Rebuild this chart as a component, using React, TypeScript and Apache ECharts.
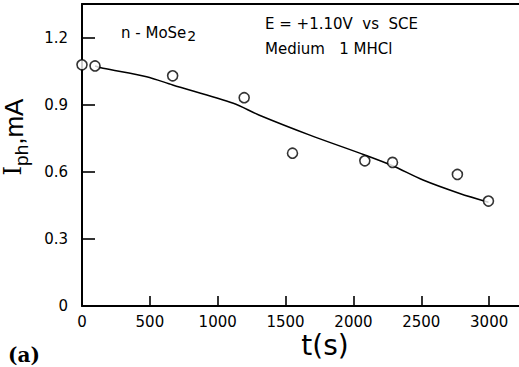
import React, { useEffect, useRef } from "react";
import * as echarts from "echarts";

const measuredT = [0, 96, 668, 1195, 1551, 2084, 2288, 2766, 2995];
const measuredI = [1.078, 1.073, 1.029, 0.931, 0.683, 0.649, 0.642, 0.588, 0.469];

const fitT = [96, 155, 476, 668, 1115, 1303, 1679, 2084, 2288, 2513, 2783, 2995];
const fitI = [1.073, 1.063, 1.025, 0.988, 0.906, 0.854, 0.764, 0.675, 0.627, 0.563, 0.503, 0.464];

const xTicks = [0, 500, 1000, 1500, 2000, 2500, 3000];
const yTicks = [0, 0.3, 0.6, 0.9, 1.2];

export default function App() {
  const ref = useRef<HTMLDivElement>(null);
  useEffect(() => {
    if (!ref.current) return;
    const chart = echarts.init(ref.current, null, { renderer: "svg" });
    const tickFont = "DejaVu Sans";
    chart.setOption({
      animation: false,
      backgroundColor: "#ffffff",
      grid: { left: 82, right: 0, top: 4, bottom: 61, containLabel: false },
      xAxis: [
        {
          type: "value",
          min: 0,
          max: 3220,
          interval: 500,
          splitLine: { show: false },
          axisLine: { show: true, lineStyle: { color: "#000", width: 2 } },
          axisTick: { show: false },
          axisLabel: {
            margin: 8,
            color: "#000",
            fontFamily: tickFont,
            fontSize: 15,
            showMaxLabel: false,
            formatter: (v: number) => (xTicks.indexOf(Math.round(v)) >= 0 ? String(Math.round(v)) : ""),
          },
        },
        {
          type: "value",
          position: "top",
          min: 0,
          max: 3220,
          splitLine: { show: false },
          axisLine: { show: true, lineStyle: { color: "#000", width: 2 } },
          axisTick: { show: false },
          axisLabel: { show: false },
        },
      ],
      yAxis: {
        type: "value",
        min: 0,
        max: 1.35,
        interval: 0.3,
        splitLine: { show: false },
        axisLine: { show: true, lineStyle: { color: "#000", width: 2 } },
        axisTick: { show: false },
        axisLabel: {
          margin: 14,
          color: "#000",
          fontFamily: tickFont,
          fontSize: 15,
          showMaxLabel: false,
          formatter: (v: number) => {
            const r = Math.round(v * 10) / 10;
            const hit = yTicks.some((t) => Math.abs(t - v) < 1e-6);
            if (!hit) return "";
            return r === 0 ? "0" : r.toFixed(1);
          },
        },
      },
      series: [
        {
          type: "scatter",
          data: measuredT.map((t, i) => [t, measuredI[i]]),
          symbol: "circle",
          symbolSize: 10,
          itemStyle: { color: "#fff", borderColor: "#000", borderWidth: 1.6 },
          z: 3,
          markLine: {
            silent: true,
            symbol: "none",
            animation: false,
            label: { show: false },
            lineStyle: { color: "#000", width: 1.6, type: "solid" },
            data: [
              ...xTicks.slice(1).map((v) => [{ coord: [v, 0] }, { coord: [v, 0.045] }]),
              ...yTicks.slice(1).map((v) => [{ coord: [0, v] }, { coord: [96, v] }]),
            ],
          },
        },
        {
          type: "line",
          data: fitT.map((t, i) => [t, fitI[i]]),
          showSymbol: false,
          symbol: "none",
          smooth: 0.3,
          lineStyle: { color: "#000", width: 1.5 },
          silent: true,
          z: 2,
        },
      ],
      graphic: [
        {
          type: "text",
          left: 121,
          top: 20,
          style: {
            text: "{m|n - MoSe}{s|2}",
            rich: {
              m: { fontFamily: "DejaVu Sans", fontSize: 15, fill: "#000", lineHeight: 18, verticalAlign: "top" },
              s: { fontFamily: "DejaVu Sans", fontSize: 14, fill: "#000", lineHeight: 16, padding: [9, 0, 0, 1], verticalAlign: "bottom" },
            },
          },
        },
        {
          type: "text",
          left: 265,
          top: 16,
          style: { text: "E = +1.10V  vs  SCE", fontFamily: "DejaVu Sans", fontSize: 15, fill: "#000" },
        },
        {
          type: "text",
          left: 265,
          top: 41,
          style: { text: "Medium   1 MHCl", fontFamily: "DejaVu Sans", fontSize: 15, fill: "#000" },
        },
        {
          type: "text",
          x: 16,
          y: 137,
          rotation: Math.PI / 2,
          style: {
            text: "{a|I}{b|ph}{c|,mA}",
            align: "center",
            verticalAlign: "middle",
            rich: {
              a: { fontFamily: "DejaVu Serif", fontSize: 24, fill: "#000", lineHeight: 30, verticalAlign: "top" },
              b: { fontFamily: "Liberation Sans", fontSize: 19, fill: "#000", lineHeight: 20, padding: [15, 0, 0, 0], verticalAlign: "bottom" },
              c: { fontFamily: "Liberation Sans", fontSize: 26, fill: "#000", lineHeight: 30, verticalAlign: "top" },
            },
          },
        },
        {
          type: "text",
          x: 325,
          y: 345,
          style: { text: "t(s)", fontFamily: "DejaVu Sans", fontSize: 28, fill: "#000", align: "center", verticalAlign: "middle" },
        },
        {
          type: "text",
          x: 8,
          y: 355,
          style: { text: "(a)", fontFamily: "DejaVu Serif", fontWeight: "bold", fontSize: 20, fill: "#000", align: "left", verticalAlign: "middle" },
        },
      ],
    });
    return () => chart.dispose();
  }, []);
  return (
    <div
      ref={ref}
      style={{ position: "fixed", left: 0, top: 0, width: 519, height: 367, background: "#fff" }}
    />
  );
}
